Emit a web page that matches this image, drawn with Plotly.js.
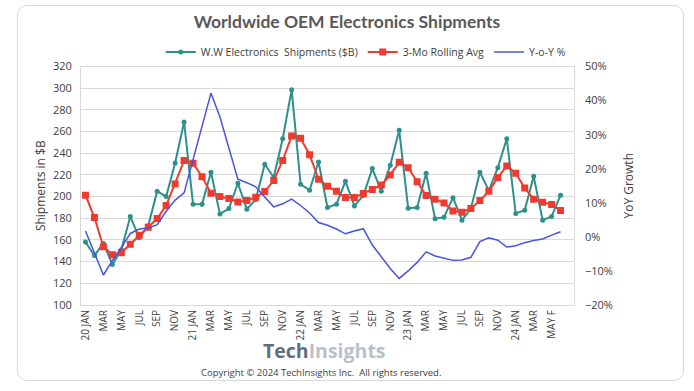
<!DOCTYPE html>
<html>
<head>
<meta charset="utf-8">
<script src="https://cdn.plot.ly/plotly-3.0.1.min.js"></script>
<style>
  html, body { margin: 0; padding: 0; background: #ffffff; }
  #wrap { position: relative; width: 694px; height: 391px; }
  #chart { position: absolute; left: 0; top: 0; width: 694px; height: 391px; }
  #frame { position: absolute; left: 17px; top: 5px; width: 665px; height: 374px;
           border: 1.5px solid #d9d9d9; border-radius: 10px; pointer-events: none; }
</style>
</head>
<body>
<div id="wrap">
  <div id="chart"></div>
  <div id="frame"></div>
</div>
<script>
// Month labels, Jan 2020 .. Jun 2024 (F = forecast)
const months = [
  "20 JAN","FEB","MAR","APR","MAY","JUN","JUL","AUG","SEP","OCT","NOV","DEC",
  "21 JAN","FEB","MAR","APR","MAY","JUN","JUL","AUG","SEP","OCT","NOV","DEC",
  "22 JAN","FEB","MAR","APR","MAY","JUN","JUL","AUG","SEP","OCT","NOV","DEC",
  "23 JAN","FEB","MAR","APR","MAY","JUN","JUL","AUG","SEP","OCT","NOV","DEC",
  "24 JAN","FEB","MAR","APR","MAY F","JUN F"
];

// W.W Electronics Shipments ($B)
const shipments = [
  158, 145.7, 156.8, 137.4, 151, 181.6, 162, 173, 205, 200, 231, 268.8,
  193, 193, 222.4, 184, 189, 212.3, 188.4, 197.3, 229.8, 217.8, 253.4, 298.5,
  211.4, 205.9, 232, 189.9, 193, 214.1, 191.4, 201, 225.8, 205, 228.9, 261.1,
  189.3, 189.9, 221.5, 179.5, 181, 199, 178.2, 189, 222.4, 205.5, 226.7, 253.4,
  184.4, 187.4, 218.7, 178.2, 181.6, 201.3
];

// 3-Mo Rolling Avg ($B)
const rollingAvg = [
  201.3, 180.7, 153.7, 146.3, 148.2, 156.1, 164.4, 171.8, 179.8, 191.7, 211.7, 233.2,
  230.7, 218.4, 203.1, 200, 198.2, 195.1, 196.3, 199.4, 204.6, 214.8, 233.2, 255.9,
  253.7, 238.7, 216, 209.5, 204.9, 199.1, 199.1, 202.8, 206.5, 210.8, 220, 231.6,
  226.7, 213.8, 201, 197.6, 194.2, 186.8, 185.6, 189, 196.3, 204.9, 217.5, 228.3,
  221.5, 208, 197.6, 194.8, 192.7, 187.1
];

// Y-o-Y %
const yoy = [
  1.7, -4.8, -11.2, -7.0, -3.2, 1.0, 2.3, 2.6, 3.6, 7.5, 10.8, 12.9,
  22.5, 32.5, 42.2, 35.2, 25.9, 16.9, 15.9, 14.7, 11.7, 8.8, 9.7, 11.1,
  9.2, 7.0, 4.2, 3.4, 2.3, 0.9, 1.7, 2.4, -2.4, -5.8, -9.3, -12.2,
  -10, -7.5, -4.4, -5.6, -6.3, -6.9, -6.8, -6.0, -1.4, -0.3, -1.0, -3.0,
  -2.6, -1.7, -1.1, -0.6, 0.5, 1.5
];

const idx = months.map((_, i) => i);
const tickIdx = idx.filter(i => i % 2 === 0);
const tickText = tickIdx.map(i => months[i]);

const FONT = "Open Sans, Noto Sans, sans-serif";
const TEAL = "#2e908c", RED = "#ee3a2f", BLUE = "#4654e0";

const traces = [
  { x: idx, y: shipments, name: "W.W Electronics  Shipments ($B)", type: "scatter",
    mode: "lines+markers", line: { color: TEAL, width: 2 },
    marker: { color: TEAL, size: 5, symbol: "circle" } },
  { x: idx, y: rollingAvg, name: "3-Mo Rolling Avg", type: "scatter",
    mode: "lines+markers", line: { color: RED, width: 2 },
    marker: { color: RED, size: 7, symbol: "square" } },
  { x: idx, y: yoy, name: "Y-o-Y %", type: "scatter", yaxis: "y2",
    mode: "lines", line: { color: BLUE, width: 1.5 } }
];

const layout = {
  width: 694, height: 391,
  margin: { l: 81, r: 120, t: 66, b: 86, pad: 0 },
  paper_bgcolor: "#ffffff", plot_bgcolor: "#ffffff",
  font: { family: FONT, color: "#595959", size: 11 },
  title: { text: "<b>Worldwide OEM Electronics Shipments</b>",
           font: { family: "Lato, Open Sans, sans-serif", size: 17.5, color: "#595959" },
           x: 0.5, xref: "container", xanchor: "center", y: 0.944, yref: "container", yanchor: "middle" },
  showlegend: true,
  legend: { orientation: "h", x: 0.527, xref: "container", xanchor: "center",
            y: 0.867, yref: "container", yanchor: "middle",
            font: { family: FONT, size: 10.5, color: "#404040" },
            itemwidth: 30, tracegroupgap: 0, bgcolor: "rgba(0,0,0,0)" },
  xaxis: { range: [-0.5, 54.5], tickmode: "array", tickvals: tickIdx, ticktext: tickText,
           tickangle: -90, showgrid: false, zeroline: false, ticks: "",
           tickfont: { family: FONT, size: 10, color: "#404040" },
           showline: true, linecolor: "#d9d9d9", linewidth: 1, mirror: true },
  yaxis: { range: [100, 320], dtick: 20, tick0: 100, showgrid: true, gridcolor: "#d9d9d9",
           gridwidth: 1, zeroline: false, ticks: "", ticklabelstandoff: 6,
           tickfont: { family: FONT, size: 11, color: "#404040" },
           title: { text: "Shipments in $B", font: { family: FONT, size: 12, color: "#404040" }, standoff: 4 },
           showline: true, linecolor: "#d9d9d9", linewidth: 1, mirror: true },
  yaxis2: { overlaying: "y", side: "right", range: [-20, 50], dtick: 10, tick0: -20,
            ticksuffix: "%", showgrid: false, zeroline: false, ticks: "", ticklabelstandoff: 10,
            tickfont: { family: FONT, size: 11, color: "#404040" },
            title: { text: "YoY Growth", font: { family: FONT, size: 12, color: "#404040" }, standoff: 12 } },
  annotations: [
    { text: "<b><span style='color:#4d6173'>Tech</span><span style='color:#b3bbc3'>Insights</span></b>",
      xref: "paper", yref: "paper", x: (324 - 81) / 493, y: (305 - 351) / 239,
      xanchor: "center", yanchor: "middle", showarrow: false, borderpad: 0,
      font: { family: "Open Sans, sans-serif", size: 19.5 }, opacity: 0.9 },
    { text: "Copyright © 2024 TechInsights Inc.  All rights reserved.",
      xref: "paper", yref: "paper", x: (321 - 81) / 493, y: (305 - 373) / 239,
      xanchor: "center", yanchor: "middle", showarrow: false, borderpad: 0,
      font: { family: FONT, size: 9.5, color: "#404040" } }
  ]
};

Plotly.newPlot("chart", traces, layout, { displayModeBar: false, staticPlot: true });
</script>
</body>
</html>
